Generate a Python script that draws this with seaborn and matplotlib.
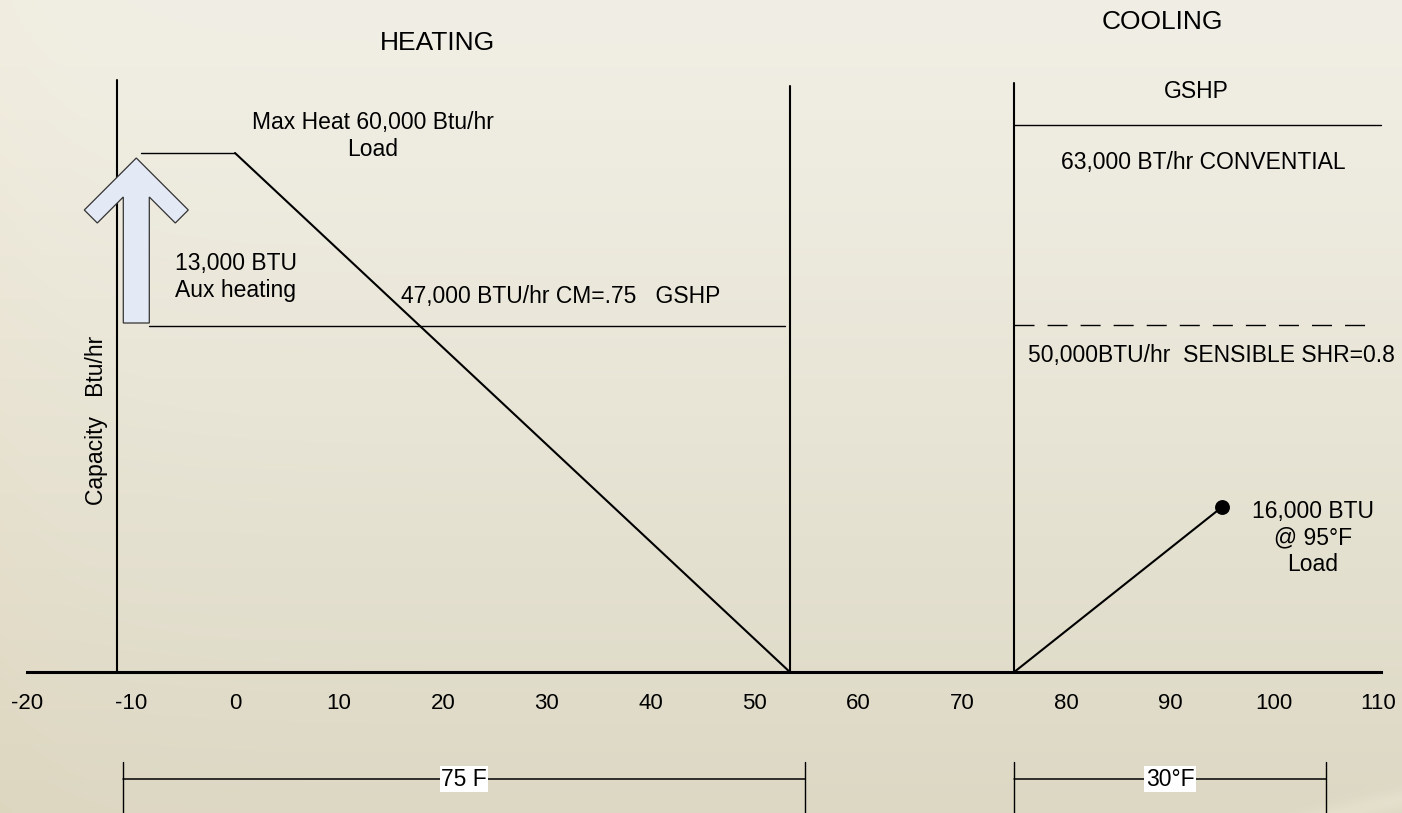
import numpy as np
import matplotlib
matplotlib.use("Agg")
import matplotlib.pyplot as plt
import seaborn as sns

# ---------------- data ----------------
temp_ticks = list(range(-20, 111, 10))

# heating side (outdoor temperature, degF  vs  capacity, Btu/hr)
max_heat_temp = [-9.0, 0.0]
max_heat_btu = [60000, 60000]
heat_load_temp = [0.0, 53.4]
heat_load_btu = [60000, 0]
gshp_heat_temp = [-8.3, 52.9]
gshp_heat_btu = [47000, 47000]
aux_heat_btu = [47000, 60000]      # supplemental heat bridged by the arrow
aux_arrow_temp = -9.5
heat_frame_temp = [-11.4, 53.4]

# cooling side
cool_frame_temp = 75.0
cool_conv_temp = [75.0, 110.3]
cool_conv_btu = [63000, 63000]
cool_sens_temp = [75.0, 108.8]
cool_sens_btu = [50000, 50000]
cool_load_temp = [75.0, 95.0]
cool_load_btu = [0, 16000]

# design temperature spans
heat_span = [-10.8, 54.9]
cool_span = [75.0, 105.0]
span_labels = ["75 F", "30°F"]

# ---------------- capacity axis (schematic, piecewise) ----------------
cap_knots = np.array([-20000, 0, 16000, 47000, 50000, 60000, 63000, 90000], float)
height_knots = np.array([-206, 0, 165, 346, 347, 519, 547, 799], float)


def to_height(v):
    return np.interp(np.asarray(v, float), cap_knots, height_knots)


def to_cap(h):
    return np.interp(np.asarray(h, float), height_knots, cap_knots)


# ---------------- figure ----------------
sns.set_theme(style="white")
plt.rcParams["font.family"] = ["Liberation Sans", "DejaVu Sans"]
plt.rcParams["axes.unicode_minus"] = False
plt.rcParams["text.color"] = "black"

W, H = 1402, 813
fig = plt.figure(figsize=(W / 100, H / 100), dpi=100)

# textured beige backdrop
bg = fig.add_axes([0, 0, 1, 1], zorder=0)
bg.set_axis_off()
yy = np.linspace(0, 1, H)[:, None]
xx = np.linspace(0, 1, W)[None, :]
top = np.array([241, 239, 229]) / 255
bottom = np.array([221, 216, 196]) / 255
img = top[None, None, :] + (bottom - top)[None, None, :] * (yy ** 1.2)[..., None]
img = img * np.ones((H, W, 1))
warm = 0.018 * np.exp(-xx / 0.06)
img[..., 2] -= warm
img[..., 1] -= warm * 0.4
py, px = np.mgrid[0:H, 0:W]
d = np.hypot(px - 1700, py - 2300)
band = 0.03 * np.exp(-((d - 1530) / 10.0) ** 2) * (px > 1000)
img += band[..., None]
bg.imshow(np.clip(img, 0, 1), extent=[0, 1, 0, 1], aspect="auto", origin="upper")

ax = fig.add_axes([0, 0, 1, 1], zorder=1)
ax.patch.set_alpha(0)

xmin, xmax = -235 / 10.39, (W - 235) / 10.39


def fy(ypix):
    return 1 - ypix / H


# heating curves
sns.lineplot(x=max_heat_temp, y=max_heat_btu, color="black", lw=1.0, ax=ax,
             sort=False, estimator=None)
sns.lineplot(x=heat_load_temp, y=heat_load_btu, color="black", lw=1.5, ax=ax,
             sort=False, estimator=None)
sns.lineplot(x=gshp_heat_temp, y=gshp_heat_btu, color="black", lw=1.0, ax=ax,
             sort=False, estimator=None)

# cooling curves
sns.lineplot(x=cool_conv_temp, y=cool_conv_btu, color="black", lw=1.0, ax=ax,
             sort=False, estimator=None)
sns.lineplot(x=cool_sens_temp, y=cool_sens_btu, color="black", lw=1.0, ax=ax,
             sort=False, estimator=None, linestyle=(0, (14.4, 9.4)))
sns.lineplot(x=cool_load_temp, y=cool_load_btu, color="black", lw=1.5, ax=ax,
             sort=False, estimator=None)
sns.scatterplot(x=[cool_load_temp[-1]], y=[cool_load_btu[-1]], s=115,
                color="black", linewidth=0, ax=ax, zorder=5)

# section frames
ax.axvline(heat_frame_temp[0], ymin=fy(672), ymax=fy(80), color="black", lw=1.5)
ax.axvline(heat_frame_temp[1], ymin=fy(672), ymax=fy(86), color="black", lw=1.5)
ax.axvline(cool_frame_temp, ymin=fy(672), ymax=fy(83), color="black", lw=1.5)

# supplemental heat arrow (shape in pixels, anchored to capacities)
ppu = W / (xmax - xmin)
tip_h = float(to_height(aux_heat_btu[1])) - 5
base_h = float(to_height(aux_heat_btu[0])) + 3
outline = [(0, 0), (52, -52), (39, -65), (13, -39), (13, None), (-13, None),
           (-13, -39), (-39, -65), (-52, -52)]
ax_x = [aux_arrow_temp + dx / ppu for dx, _ in outline]
ax_y = [float(to_cap(base_h if dy is None else tip_h + dy)) for _, dy in outline]
ax.fill(ax_x, ax_y, facecolor="#E3E9F5", edgecolor="#333333", lw=0.9, zorder=4)

ax.set_yscale("function", functions=(to_height, to_cap))
ax.set_xlim(xmin, xmax)
ax.set_ylim(float(to_cap(-141)), float(to_cap(672)))

# temperature axis drawn at zero capacity
for s in ["top", "right", "left"]:
    ax.spines[s].set_visible(False)
ax.spines["bottom"].set_position(("data", 0))
ax.spines["bottom"].set_bounds(-20, 110.3)
ax.spines["bottom"].set_linewidth(2.2)
ax.spines["bottom"].set_color("black")
ax.spines["bottom"].set_zorder(3)
ax.set_xticks(temp_ticks)
ax.set_xticklabels([str(t) for t in temp_ticks])
ax.set_yticks([])
ax.minorticks_off()
ax.tick_params(axis="x", length=0, pad=15, labelsize=16, colors="black",
               labelcolor="black")
ax.set_xlabel("")
ax.set_ylabel("")

fs = 16.5
ta = ax.transAxes
ax.text(437 / W, fy(43), "HEATING", transform=ta, ha="center", va="center",
        fontsize=19, color="black")
ax.text(1162 / W, fy(22), "COOLING", transform=ta, ha="center", va="center",
        fontsize=19, color="black")
ax.text(373 / W, fy(136), "Max Heat 60,000 Btu/hr\nLoad", transform=ta,
        ha="center", va="center", multialignment="center", fontsize=fs,
        linespacing=1.2)
ax.text(175 / W, fy(277), "13,000 BTU\nAux heating", transform=ta,
        ha="left", va="center", multialignment="left", fontsize=fs,
        linespacing=1.2)
ax.text(401 / W, fy(297), "47,000 BTU/hr CM=.75   GSHP", transform=ta,
        ha="left", va="center", fontsize=fs)
ax.text(1196 / W, fy(92), "GSHP", transform=ta, ha="center", va="center",
        fontsize=fs)
ax.text(1203 / W, fy(162), "63,000 BT/hr CONVENTIAL", transform=ta,
        ha="center", va="center", fontsize=fs)
ax.text(1028 / W, fy(355), "50,000BTU/hr  SENSIBLE SHR=0.8", transform=ta,
        ha="left", va="center", fontsize=fs)
ax.text(1313 / W, fy(538), "16,000 BTU\n@ 95°F\nLoad", transform=ta,
        ha="center", va="center", multialignment="center", fontsize=fs,
        linespacing=1.2)
ax.text(97 / W, fy(420), "Capacity   Btu/hr", transform=ta, rotation=90,
        ha="center", va="center", fontsize=fs)

# design-span dimension brackets
tb = ax.get_xaxis_transform()
for span, label in zip([heat_span, cool_span], span_labels):
    ax.plot(span, [fy(779)] * 2, transform=tb, color="black", lw=1.1,
            clip_on=False)
    for xe in span:
        ax.plot([xe, xe], [0, fy(762)], transform=tb, color="black", lw=1.0,
                clip_on=False)
    ax.text(sum(span) / 2, fy(779), label, transform=tb, ha="center",
            va="center", fontsize=fs,
            bbox=dict(facecolor="white", edgecolor="none", pad=1.0))

fig.savefig("out.png", dpi=100)
